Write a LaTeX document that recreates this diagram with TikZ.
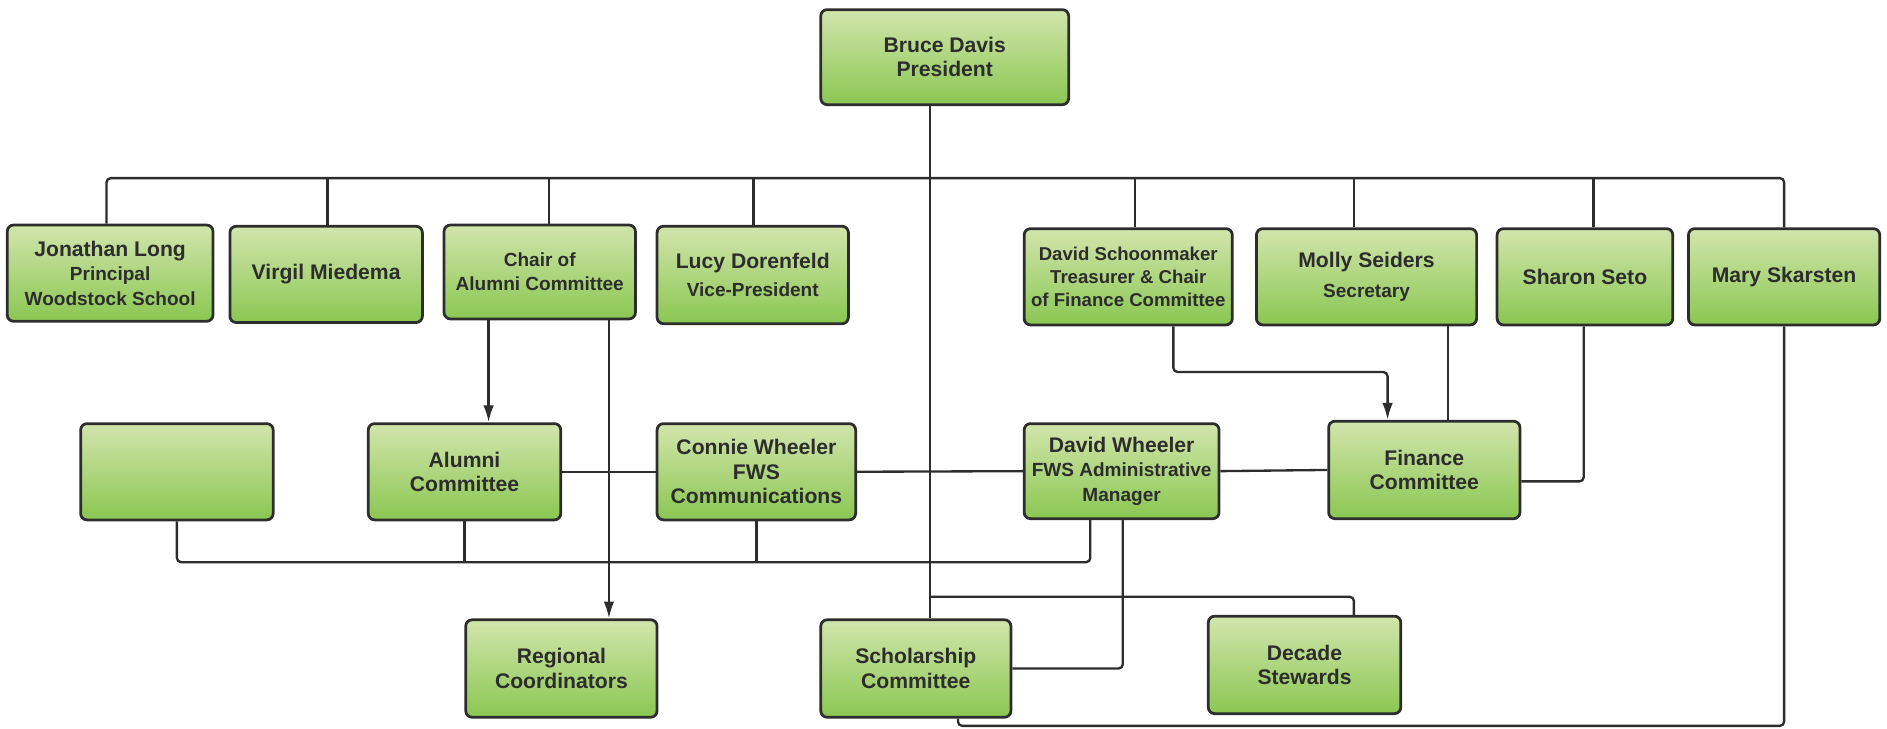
\documentclass[tikz,border=0pt]{standalone}
\usepackage{fontspec}
\setmainfont{Liberation Sans}
\usepackage{tikz}
\usetikzlibrary{
  calc,
  positioning,
  arrows.meta
}
\definecolor{boxtop}{RGB}{210,229,172}
\definecolor{boxbot}{RGB}{138,199,82}
\definecolor{ink}{RGB}{45,45,45}
\newcommand{\roletxt}[1]{{\fontsize{9}{11}\selectfont #1}}

\begin{document}
\begin{tikzpicture}[x=0.02cm, y=-0.02cm, >={Latex[length=8pt,width=5pt]},
    box/.style={rectangle, rounded corners=3pt, draw=ink, line width=1.3pt,
      top color=boxtop, bottom color=boxbot, text=ink, align=center,
      minimum width=3.2cm, minimum height=1.6cm, inner sep=2pt,
      font=\bfseries\fontsize{10}{11.5}\selectfont},
    link/.style={draw=ink, line width=1.1pt, rounded corners=2pt}]
    \useasboundingbox (0,0) rectangle (1568,605);

    \node[box, minimum width=4.12cm, minimum height=1.58cm] (pres) at (785,47.5) {Bruce Davis\\President};

    \node[box, minimum width=3.42cm] (long) at (91.5,227) {Jonathan Long\\\roletxt{Principal}\\\roletxt{Woodstock School}};
    \node[box] (virgil) at (271,228) {Virgil Miedema};
    \node[box, minimum width=3.18cm, minimum height=1.56cm] (chair) at (448.5,226) {\roletxt{Chair of}\\\roletxt{Alumni Committee}};
    \node[box, minimum width=3.18cm, minimum height=1.62cm] (lucy) at (625.5,228.5) {Lucy Dorenfeld\\[2pt]\roletxt{Vice-President}};
    \node[box, minimum width=3.46cm, font=\bfseries\fontsize{8.8}{11}\selectfont] (schoon) at (937.5,230) {David Schoonmaker\\Treasurer \& Chair\\of Finance Committee};
    \node[box, minimum width=3.66cm] (molly) at (1135.5,230) {Molly Seiders\\[3pt]\roletxt{Secretary}};
    \node[box, minimum width=2.92cm] (sharon) at (1317,230) {Sharon Seto};
    \node[box, minimum width=3.18cm] (mary) at (1482.5,230) {Mary Skarsten};

    \node[box] (blank) at (147,392) {};
    \node[box] (alumni) at (386,392) {Alumni\\Committee};
    \node[box, minimum width=3.3cm] (connie) at (628.5,392) {Connie Wheeler\\FWS\\Communications};
    \node[box, minimum width=3.24cm, minimum height=1.58cm] (dwheel) at (932,391.5) {David Wheeler\\\roletxt{FWS Administrative}\\\roletxt{Manager}};
    \node[box, minimum width=3.18cm, minimum height=1.62cm] (finance) at (1183.5,390.5) {Finance\\Committee};

    \node[box, minimum width=3.18cm, minimum height=1.62cm] (regional) at (466.5,555.5) {Regional\\Coordinators};
    \node[box, minimum width=3.16cm, minimum height=1.62cm] (scholar) at (761,555.5) {Scholarship\\Committee};
    \node[box, minimum height=1.62cm] (decade) at (1084,552.5) {Decade\\Stewards};

    % bus lines
    \coordinate (topbus) at (0,148);
    \coordinate (lowbus) at (0,466);

    \draw[link] ($(pres.south)+(-12,0)$) -- ($(scholar.north)+(12,0)$);
    \draw[link] ($(long.north)+(-3,0)$) |- (topbus -| mary.north) -- (mary.north);
    \draw[link] ($(virgil.north)+(1,0)$) coordinate (d) -- (d |- topbus);
    \draw[link] ($(chair.north)+(7.5,0)$) coordinate (d) -- (d |- topbus);
    \draw[link] ($(lucy.north)+(0.5,0)$) coordinate (d) -- (d |- topbus);
    \draw[link] ($(schoon.north)+(5.5,0)$) coordinate (d) -- (d |- topbus);
    \draw[link] ($(molly.north)+(-10.5,0)$) coordinate (d) -- (d |- topbus);
    \draw[link] ($(sharon.north)+(7,0)$) coordinate (d) -- (d |- topbus);

    \draw[link, ->] ($(chair.south)+(-42.5,0)$) coordinate (c1) -- (c1 |- alumni.north);
    \draw[link, ->] ($(chair.south)+(57.5,0)$) coordinate (c2) -- (c2 |- regional.north);

    \draw[link] (alumni.east) -- (connie.west);
    \draw[link] (connie.east) -- (dwheel.west);
    \draw[link] (dwheel.east) -- (finance.west);

    \draw[link, ->] ($(schoon.south)+(37.5,0)$) -- ++(0,38) -| ($(finance.north)+(-30.5,0)$);
    \draw[link] ($(molly.south)+(67.5,0)$) coordinate (m1) -- (m1 |- finance.north);
    \draw[link] ($(sharon.south)+(-1,0)$) |- ($(finance.east)+(0,9.5)$);

    \draw[link] (blank.south) |- ($(dwheel.south)+(-26,35)$) -- ($(dwheel.south)+(-26,0)$);
    \draw[link] (alumni.south) -- (alumni.south |- lowbus);
    \draw[link] (connie.south) -- (connie.south |- lowbus);

    \draw[link] ($(dwheel.south)+(1,0)$) |- (scholar.east);
    \draw[link] ($(scholar.north)+(12,-18)$) -| ($(decade.north)+(41,0)$);
    \draw[link] (mary.south) |- ($(scholar.south)+(35,6)$) -- ($(scholar.south)+(35,0)$);
\end{tikzpicture}
\end{document}
